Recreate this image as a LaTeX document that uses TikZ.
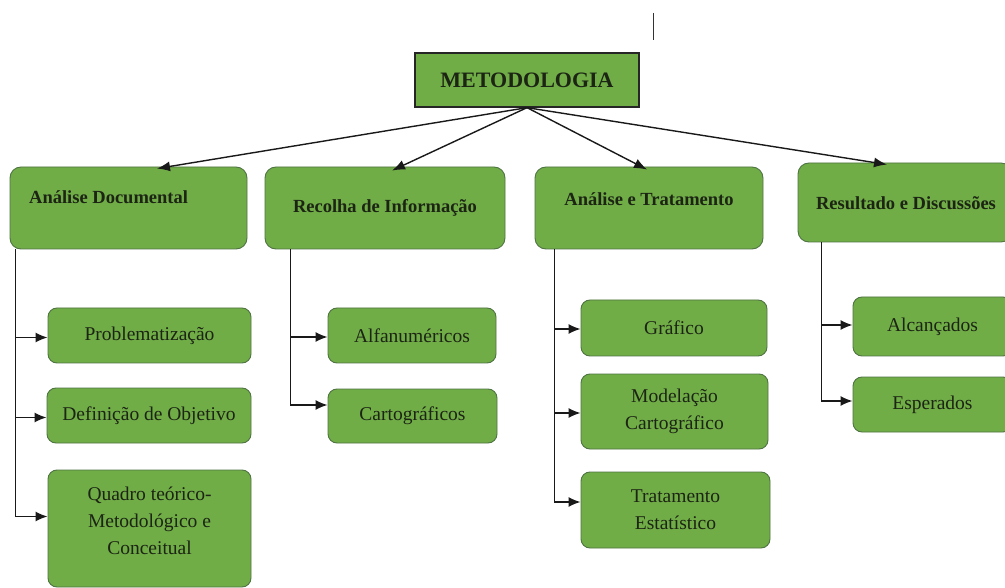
\documentclass[tikz,border=0pt]{standalone}
\usepackage{fontspec}
\setmainfont{Liberation Serif}
\usetikzlibrary{arrows.meta}
\definecolor{boxgreen}{HTML}{70AD47}
\definecolor{boxline}{HTML}{4F7442}
\definecolor{txt}{HTML}{1C2414}
\tikzset{
  metbox/.style={draw=black!85, line width=1.3pt, fill=boxgreen, minimum width=224pt, minimum height=54pt, inner sep=0pt, text=txt, font=\fontsize{22}{24}\selectfont\bfseries},
  headbox/.style={draw=boxline, line width=0.9pt, fill=boxgreen, rounded corners=11pt, inner sep=0pt, text=txt, font=\fontsize{18.5}{22}\selectfont\bfseries},
  leafbox/.style={draw=boxline, line width=0.9pt, fill=boxgreen, rounded corners=9pt, inner sep=0pt, text=txt, align=center, font=\fontsize{19.5}{27}\selectfont},
  headtxt/.style={text=txt, inner sep=0pt, font=\fontsize{18.5}{22}\selectfont\bfseries},
  leaftxt/.style={text=txt, inner sep=0pt, align=center, font=\fontsize{19.5}{27}\selectfont},
  arr/.style={draw=black!90, line width=1.4pt, -{Latex[length=13pt,width=10pt]}},
  tree/.style={draw=black!90, line width=1.4pt, -{Latex[length=12pt,width=10pt]}}
}
\begin{document}
\begin{tikzpicture}[x=1pt,y=-1pt]
\useasboundingbox (0,0) rectangle (1005,588);
\fill[white] (0,0) rectangle (1005,588);

% stray bar
\draw[line width=1pt, black!80] (653,13) -- (653,40);

% top
\node[metbox] (met) at (527,80) {METODOLOGIA};

% headers
\node[headbox, minimum width=237pt, minimum height=82pt] (ad) at (128.5,208) {};
\node[headtxt, anchor=west] (adt) at (29,197) {Análise Documental};
\node[headbox, minimum width=240pt, minimum height=82pt] (rec) at (385,208) {Recolha de Informação};
\node[headbox, minimum width=228pt, minimum height=82pt] (at) at (649,208) {};
\node[headtxt] (att) at (649,199) {Análise e Tratamento};
\node[headbox, minimum width=214pt, minimum height=79pt] (res) at (905,202.5) {};
\node[headtxt] (rest) at (906,203) {Resultado e Discussões};

% arrows from top
\draw[arr] (met.south) -- ([xshift=28.5pt,yshift=-2pt]ad.north);
\draw[arr] (met.south) -- ([xshift=7pt,yshift=-4pt]rec.north);
\draw[arr] (met.south) -- ([xshift=-2pt,yshift=-3pt]at.north);
\draw[arr] (met.south) -- ([xshift=-18pt,yshift=-2pt]res.north);

% column 1
\node[leafbox, minimum width=203pt, minimum height=55pt] (prob) at (149.5,335.5) {Problematização};
\node[leafbox, minimum width=204pt, minimum height=55pt] (def) at (149,415.5) {Definição de Objetivo};
\node[leafbox, minimum width=203pt, minimum height=117pt] (quad) at (149.5,528.5) {};
\node[leaftxt] (quadt) at (149.5,521) {Quadro teórico-\\Metodológico e\\Conceitual};
\draw[tree] ([xshift=6pt]ad.south west) |- ([yshift=-2pt]prob.west);
\draw[tree] ([xshift=6pt]ad.south west) |- ([yshift=-2pt]def.west);
\draw[tree] ([xshift=6pt]ad.south west) |- ([yshift=12pt]quad.west);

% column 2
\node[leafbox, minimum width=168pt, minimum height=55pt] (alf) at (412,335.5) {Alfanuméricos};
\node[leafbox, minimum width=169pt, minimum height=54pt] (cart) at (412.5,416) {Cartográficos};
\draw[tree] ([xshift=26pt]rec.south west) |- ([yshift=-1.5pt]alf.west);
\draw[tree] ([xshift=26pt]rec.south west) |- ([yshift=11pt]cart.west);

% column 3
\node[leafbox, minimum width=186pt, minimum height=56pt] (graf) at (674,328) {Gráfico};
\node[leafbox, minimum width=187pt, minimum height=75pt] (mod) at (674.5,411.5) {Modelação\\Cartográfico};
\node[leafbox, minimum width=189pt, minimum height=76pt] (trat) at (675.5,510) {Tratamento\\Estatístico};
\draw[tree] ([xshift=20pt]at.south west) |- ([yshift=-1pt]graf.west);
\draw[tree] ([xshift=20pt]at.south west) |- ([yshift=-1.5pt]mod.west);
\draw[tree] ([xshift=20pt]at.south west) |- ([yshift=8pt]trat.west);

% column 4
\node[leafbox, minimum width=159pt, minimum height=59pt] (alc) at (932.5,326.5) {Alcançados};
\node[leafbox, minimum width=159pt, minimum height=55pt] (esp) at (932.5,404.5) {Esperados};
\draw[tree] ([xshift=24pt]res.south west) |- ([yshift=1.5pt]alc.west);
\draw[tree] ([xshift=24pt]res.south west) |- ([yshift=3.5pt]esp.west);
\end{tikzpicture}
\end{document}
